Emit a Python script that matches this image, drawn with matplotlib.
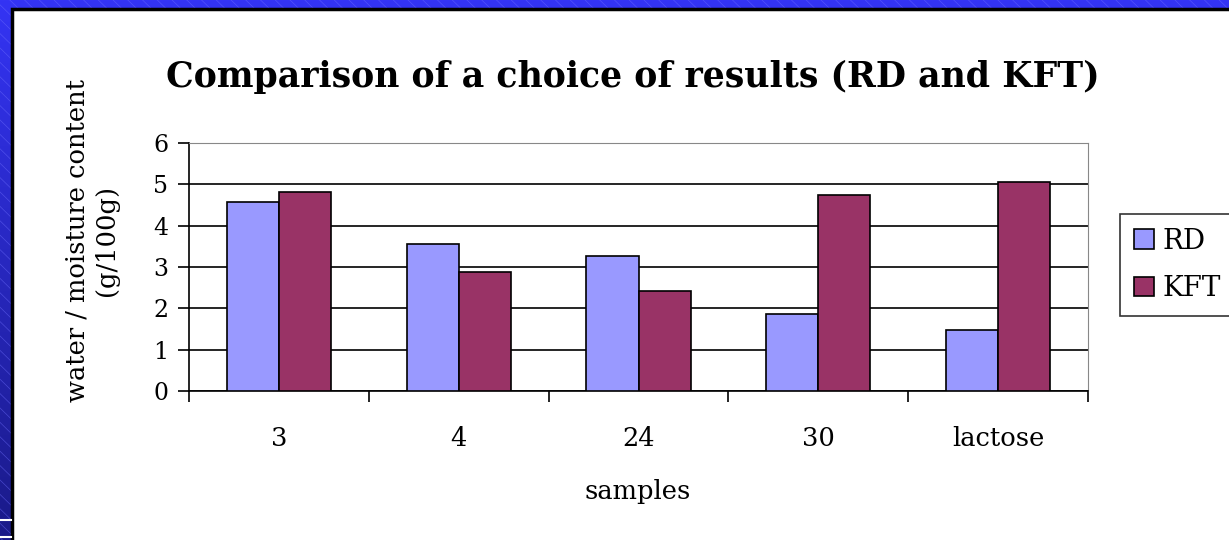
import matplotlib
matplotlib.use('Agg')
import matplotlib.pyplot as plt
import numpy as np
from matplotlib.patches import Rectangle
from matplotlib.colors import LinearSegmentedColormap

# data
samples = ['3', '4', '24', '30', 'lactose']
rd = [4.57, 3.55, 3.27, 1.87, 1.48]
kft = [4.81, 2.87, 2.42, 4.75, 5.05]

plt.rcParams['font.family'] = ['DejaVu Serif']

W, H = 1229, 540
fig = plt.figure(figsize=(W / 100, H / 100), dpi=100)

# blue hatched slide background
bg = fig.add_axes([0, 0, 1, 1])
grad = np.linspace(0, 1, 256).reshape(-1, 1)
cm = LinearSegmentedColormap.from_list('bg', ['#3434f4', '#1a1a88'])
bg.imshow(grad, aspect='auto', cmap=cm, extent=[0, 1, 0, 1], origin='upper')
for k in np.arange(-1.0, 1.0, 0.012):
    bg.plot([k, k + 0.45], [1, 0], color='#7070ff', lw=0.5, alpha=0.5)
bg.add_patch(Rectangle((12 / W, -0.1), 1.2, 1 - 9 / H + 0.1,
                       facecolor='white', edgecolor='black', lw=2.5, zorder=5))
bg.plot([0, 11 / W], [1 - 520 / H] * 2, color='white', lw=1.5, zorder=6)
bg.plot([0, 11 / W], [1 - 537 / H] * 2, color='white', lw=1.5, zorder=6)
bg.set_xlim(0, 1)
bg.set_ylim(0, 1)
bg.axis('off')

ax = fig.add_axes([189 / W, 1 - 391 / H, (1088 - 189) / W, (391 - 143) / H])
x = np.arange(len(samples))
w = 0.29
ax.bar(x - w / 2, rd, w, color='#9999ff', edgecolor='black', lw=1.2, label='RD', zorder=3)
ax.bar(x + w / 2, kft, w, color='#993366', edgecolor='black', lw=1.2, label='KFT', zorder=3)

ax.set_xlim(-0.5, len(samples) - 0.5)
ax.set_ylim(0, 6)
ax.set_yticks(range(7))
ax.yaxis.grid(True, color='black', lw=1.2, zorder=0)
ax.set_xticks(np.arange(-0.5, len(samples), 1.0))
ax.set_xticklabels([])
ax.set_xticks(x, minor=True)
ax.set_xticklabels(samples, minor=True)
ax.tick_params(axis='x', which='major', direction='out', length=8, width=1.2, color='black')
ax.tick_params(axis='x', which='minor', length=0, pad=25, labelsize=18.5)
ax.tick_params(axis='y', direction='out', length=8, width=1.2, labelsize=17, pad=7)
for s in ['top', 'right']:
    ax.spines[s].set_color('#888888')
ax.spines['left'].set_linewidth(1.2)
ax.spines['bottom'].set_linewidth(1.2)

fig.text(638 / W, 1 - 492 / H, 'samples', fontsize=18.5, ha='center', va='center')
fig.text(92 / W, 1 - 241 / H, 'water / moisture content\n(g/100g)', fontsize=18.5,
         rotation=90, ha='center', va='center', multialignment='center')
fig.text(633 / W, 1 - 77 / H, 'Comparison of a choice of results (RD and KFT)',
         fontsize=25, fontweight='bold', ha='center', va='center')

leg = ax.legend(loc='upper left', bbox_to_anchor=(1120 / W, 1 - 214 / H),
                bbox_transform=fig.transFigure, fontsize=20,
                frameon=True, fancybox=False, edgecolor='black',
                handlelength=0.72, handleheight=0.72, handletextpad=0.3,
                borderpad=0.5, labelspacing=0.73, borderaxespad=0)
leg.get_frame().set_linewidth(1.2)

fig.savefig('out.png', dpi=100)
